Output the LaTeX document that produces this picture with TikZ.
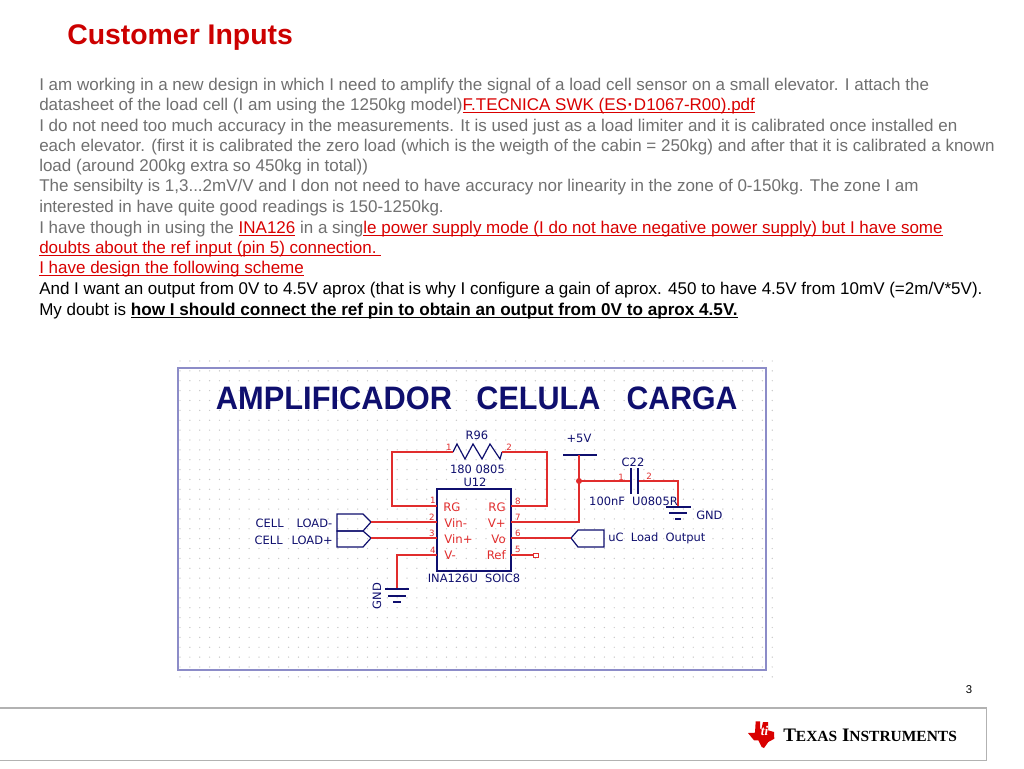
\documentclass[tikz,border=0pt]{standalone}
\usepackage{xcolor}
\usepackage{fontspec}
\setmainfont{Liberation Sans}
\newfontfamily\schfont{DejaVu Sans}
\newfontfamily\logofont{Liberation Serif}
\definecolor{schnavy}{RGB}{15,15,110}
\definecolor{schred}{RGB}{225,45,45}
\definecolor{framecol}{RGB}{140,140,200}
\definecolor{titlered}{RGB}{204,0,0}
\definecolor{bodygray}{RGB}{112,112,112}
\newcommand{\lowrule}[1]{\underline{\smash{#1}}}
\newcommand{\redlink}[1]{\textcolor{red!85!black}{\lowrule{#1}}}
\tikzset{
  bodyline/.style={anchor=base west,inner sep=0pt,font=\fontsize{12.75}{12.75}\selectfont,text=bodygray},
  blackline/.style={bodyline,text=black},
  schlabel/.style={inner sep=0pt,font=\schfont\fontsize{8.6}{8.6}\selectfont,text=schnavy},
  icpin/.style={schlabel,text=schred,font=\schfont\fontsize{8.8}{8.8}\selectfont},
  pinnum/.style={inner sep=0pt,font=\schfont\fontsize{6.5}{6.5}\selectfont,text=schred},
  bigword/.style={inner sep=0pt,text=schnavy},
  wire/.style={draw=schred,line width=1.2pt},
  navyline/.style={draw=schnavy,line width=0.9pt}
}
\begin{document}
\begin{tikzpicture}[x=0.75pt,y=-0.75pt]
\useasboundingbox (0,0) rectangle (1024,768);
\fill[white] (0,0) rectangle (1024,768);

% text block
\node[anchor=base west,inner sep=0pt,text=titlered,font=\bfseries\fontsize{21.3}{21.3}\selectfont] (title) at (67,44) {Customer Inputs};
\node[bodyline] (lineA) at (39,90.3) {I am working in a new design in which I need to amplify the signal of a load cell sensor on a small elevator. I attach the};
\node[bodyline] (lineB) at (39,110.8) {datasheet of the load cell (I am using the 1250kg model)\redlink{F.TECNICA SWK (ES\kern0.5pt\textbf{·}\kern0.5pt D1067-R00).pdf}};
\node[bodyline] (lineC) at (39,131) {I do not need too much accuracy in the measurements. It is used just as a load limiter and it is calibrated once installed en};
\node[bodyline] (lineD) at (39,151.6) {each elevator. (first it is calibrated the zero load (which is the weigth of the cabin = 250kg) and after that it is calibrated a known};
\node[bodyline] (lineE) at (39,171.8) {load (around 200kg extra so 450kg in total))};
\node[bodyline] (lineF) at (39,191.8) {The sensibilty is 1,3...2mV/V and I don not need to have accuracy nor linearity in the zone of 0-150kg. The zone I am};
\node[bodyline] (lineG) at (39,212.6) {interested in have quite good readings is 150-1250kg.};
\node[bodyline] (lineH) at (39,233) {I have though in using the \redlink{INA126} in a sing\redlink{le power supply mode (I do not have negative power supply) but I have some}};
\node[bodyline] (lineI) at (39,253.8) {\redlink{doubts about the ref input (pin 5) connection.\ }};
\node[bodyline] (lineJ) at (39,273.8) {\redlink{I have design the following scheme}};
\node[blackline] (lineK) at (39,294.6) {And I want an output from 0V to 4.5V aprox (that is why I configure a gain of aprox. 450 to have 4.5V from 10mV (=2m/V*5V).};
\node[blackline] (lineL) at (39,315.6) {My doubt is \fontsize{12.85}{12.85}\selectfont\textbf{\lowrule{how I should connect the ref pin to obtain an output from 0V to aprox 4.5V.}}};

% grid of the schematic sheet
\foreach \i in {0,...,60}
  \foreach \j in {0,...,32}
    \fill[black!22] (180+\i*9.87,361+\j*9.87) circle (0.7);
\draw[draw=framecol,line width=1.5pt] (178,368) rectangle (766,670);

\node[bigword] (wordA) at (334,398) {\resizebox{177pt}{17pt}{\bfseries AMPLIFICADOR}};
\node[bigword] (wordB) at (538.5,398) {\resizebox{93pt}{17pt}{\bfseries CELULA}};
\node[bigword] (wordC) at (682,398) {\resizebox{83pt}{17pt}{\bfseries CARGA}};

% amplifier
\node[draw=schnavy,line width=0.9pt,minimum width=55.5pt,minimum height=61.5pt,inner sep=0pt] (ic) at (474,530) {};
\coordinate (pinA) at (437,506);
\coordinate (pinB) at (437,522);
\coordinate (pinC) at (437,538);
\coordinate (pinD) at (437,555);
\coordinate (pinH) at (511,506);
\coordinate (pinG) at (511,522);
\coordinate (pinF) at (511,538);
\coordinate (pinE) at (511,555);

\node[icpin,anchor=west] (nameA) at (443,507) {RG};
\node[icpin,anchor=west] (nameB) at (444,523) {Vin-};
\node[icpin,anchor=west] (nameC) at (444,539) {Vin+};
\node[icpin,anchor=west] (nameD) at (444,555) {V-};
\node[icpin,anchor=east] (nameH) at (506,507) {RG};
\node[icpin,anchor=east] (nameG) at (506,523) {V+};
\node[icpin,anchor=east] (nameF) at (506,539) {Vo};
\node[icpin,anchor=east] (nameE) at (506,555) {Ref};

\foreach \n/\x/\y in {1/433/500,2/432/517,3/432/533,4/433/550,8/518/501,7/518/517,6/518/533,5/518/549,1/449/447,2/509/447,1/621/477,2/649/476}
  \node[pinnum] at (\x,\y) {\n};

\node[schlabel] (partR) at (477,435) {R96};
\node[schlabel] (valueR) at (477.5,469) {180 0805};
\node[schlabel] (partU) at (475,482) {U12};
\node[schlabel] (valueU) at (474,578) {INA126U\ \ SOIC8};

% gain resistor
\coordinate (resL) at (453,452);
\coordinate (resR) at (502,452);
\draw[navyline] (resL)--(457,444)--(465,459)--(473,444)--(482,459)--(490,444)--(500,459)--(resR);
\draw[wire] (resL)--(392,452)--(392,506)--(pinA);
\draw[wire] (resR)--(547,452)--(547,506)--(pinH);

% connectors
\coordinate (tipN) at (371,522);
\coordinate (tipP) at (371,538);
\coordinate (tipO) at (571,538);
\draw[navyline] (337,514)--(363,514)--(tipN)--(363,531)--(337,531)--cycle;
\draw[navyline] (337,531)--(363,531)--(tipP)--(363,547)--(337,547)--cycle;
\draw[navyline] (tipO)--(578,530)--(604,530)--(604,547)--(578,547)--cycle;
\draw[wire] (tipN)--(pinB);
\draw[wire] (tipP)--(pinC);
\draw[wire] (pinF)--(tipO);
\node[schlabel,anchor=east] (loadN) at (332.5,523) {CELL\ \ \ \kern1.5pt LOAD-};
\node[schlabel,anchor=east] (loadP) at (333,540) {CELL\ \ \ \kern-1.5pt LOAD+};
\node[schlabel,anchor=west] (loadO) at (608,538) {uC\ \ Load\ \ Output};

% ground of the amplifier
\coordinate (gndA) at (397,589);
\draw[wire] (pinD)--(397,555)--(gndA);
\draw[navyline] (385,589)--(409,589) (388,596)--(406,596) (393,602)--(401,602);
\node[schlabel,rotate=90] (gndTextA) at (377,596) {GND};

% ref pin
\node[draw=schred,line width=0.4pt,minimum width=3.5pt,minimum height=3pt,inner sep=0pt] (refPad) at (535.5,555) {};
\draw[wire] (pinE)--(refPad);

% supply
\coordinate (supply) at (579,455);
\coordinate (joint) at (579,481);
\draw[navyline] (563,455)--(597,455);
\draw[wire] (supply)--(joint)--(579,522)--(pinG);
\fill[schred] (joint) circle (3);
\node[schlabel] (supplyText) at (579,438) {+5V};

% decoupling capacitor
\coordinate (capL) at (631,481);
\coordinate (capR) at (638,481);
\draw[wire] (joint)--(capL);
\draw[wire] (capR)--(678,481)--(678,507);
\draw[navyline] (631,468)--(631,494) (638,468)--(638,494);
\node[schlabel] (partC) at (633,462) {C22};
\node[schlabel] (valueC) at (633.5,501) {100nF\ \ U0805R};
\draw[navyline] (666,507)--(691,507) (669,513)--(687,513) (675,519)--(681,519);
\node[schlabel,anchor=west] (gndTextB) at (696,515) {GND};

% footer
\node[inner sep=0pt,font=\fontsize{8.5}{8.5}\selectfont] (pageNo) at (969,690) {3};
\draw[draw=black!30,line width=1pt] (-2,708)--(986.5,708)--(986.5,760.5)--(-2,760.5);
\fill[red!85!black] (755.7,721.3)--(760,721.3)--(760,728.7)--(768,730.3)--(774,732)--(774.3,738.7)--(768.3,742)--(764,748)--(761.7,747)--(758.3,740.3)--(754,740.3)--(748,733)--(755,732.7)--cycle;
\fill[red!85!black] (763,722)--(768,722)--(768,731)--(761,731)--cycle;
\node[inner sep=0pt,text=white,font=\logofont\itshape\bfseries\fontsize{10}{10}\selectfont] (logoMark) at (764.5,731) {ti};
\node[anchor=west,inner sep=0pt,font=\logofont\bfseries\fontsize{14.3}{14.3}\selectfont] (logoText) at (783,735) {T{\fontsize{11.6}{11.6}\selectfont EXAS} I{\fontsize{11.6}{11.6}\selectfont NSTRUMENTS}};
\end{tikzpicture}
\end{document}
